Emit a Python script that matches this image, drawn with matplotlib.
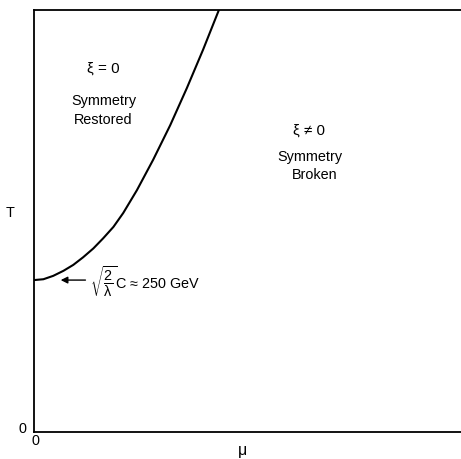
import matplotlib.pyplot as plt

plt.rcParams['font.family'] = ['Liberation Sans', 'DejaVu Sans']
plt.rcParams['mathtext.fontset'] = 'custom'
plt.rcParams['mathtext.rm'] = 'Liberation Sans'
plt.rcParams['mathtext.it'] = 'Liberation Sans:italic'

# phase boundary T(mu) (arbitrary units, 0..10 on both axes)
mu = [0.0, 0.22, 0.45, 0.69, 0.92, 1.15, 1.39, 1.62, 1.86, 2.09, 2.41, 2.79,
      3.19, 3.58, 3.96, 4.33]
T = [3.60, 3.62, 3.70, 3.82, 3.96, 4.14, 4.35, 4.59, 4.86, 5.19, 5.73, 6.45,
     7.27, 8.15, 9.06, 10.0]

fig = plt.figure(figsize=(4.61, 4.59), dpi=100)
ax = fig.add_axes([34 / 461, 27 / 459, 1 - 34 / 461, 422 / 459])
ax.plot(mu, T, color='black', lw=1.5, solid_capstyle='round',
        solid_joinstyle='round')

ax.set_xlim(0, 10)
ax.set_ylim(0, 10)
ax.set_xticks([])
ax.set_yticks([])
ax.spines['right'].set_visible(False)
for s in ['left', 'top', 'bottom']:
    ax.spines[s].set_linewidth(1.3)

fs = 10.4

# axis labels and zeros
ax.text(-0.27, 0.07, '0', ha='center', va='center', fontsize=fs)
ax.text(0.03, -0.21, '0', ha='center', va='center', fontsize=fs)
ax.text(-0.56, 5.2, 'T', ha='center', va='center', fontsize=fs)
ax.text(4.89, -0.45, 'μ', ha='center', va='center', fontsize=fs + 1)

# region labels
ax.text(1.62, 8.60, 'ξ = 0', ha='center', va='center', fontsize=fs + 0.5)
ax.text(1.64, 7.84, 'Symmetry', ha='center', va='center', fontsize=fs)
ax.text(1.63, 7.39, 'Restored', ha='center', va='center', fontsize=fs)
ax.text(6.44, 7.13, 'ξ ≠ 0', ha='center', va='center', fontsize=fs + 0.5)
ax.text(6.45, 6.52, 'Symmetry', ha='center', va='center', fontsize=fs)
ax.text(6.57, 6.09, 'Broken', ha='center', va='center', fontsize=fs)

# annotation for the intercept
ax.annotate('', xy=(0.56, T[0]), xytext=(1.27, T[0]),
            arrowprops=dict(arrowstyle='-|>', color='black', lw=1.0,
                            mutation_scale=10))
ax.text(1.31, T[0] - 0.04, r'$\sqrt{\dfrac{2}{\mathrm{λ}}}$C ≈ 250 GeV',
        ha='left', va='center', fontsize=fs)

fig.savefig('out.png', dpi=100)
